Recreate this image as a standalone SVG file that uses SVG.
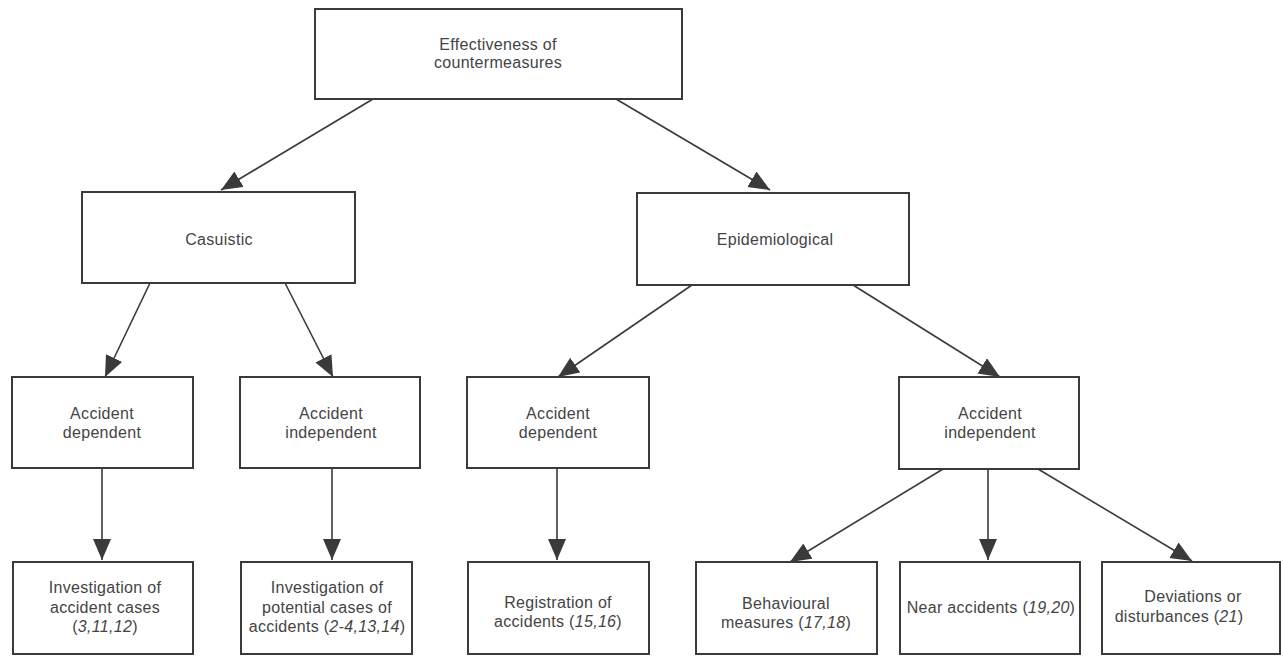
<svg xmlns="http://www.w3.org/2000/svg" width="1283" height="659" viewBox="0 0 1283 659">
<style>
.box{fill:#fff;stroke:#3a3a3a;stroke-width:2}
.t{font-family:"Liberation Sans",Arial,sans-serif;font-size:16px;fill:#444;text-anchor:middle;letter-spacing:0.3px}
.i{font-style:italic}
.c{stroke:#3a3a3a;stroke-width:1.6;fill:none;marker-end:url(#ah)}
</style>
<defs>
<marker id="ah" markerUnits="userSpaceOnUse" markerWidth="24" markerHeight="20" refX="21" refY="9" orient="auto">
<path d="M0,0 L21,9 L0,18 z" fill="#3a3a3a"/>
</marker>
</defs>
<rect width="1283" height="659" fill="#fff"/>
<g id="connectors">
<line class="c" x1="373" y1="99" x2="221" y2="190"/>
<line class="c" x1="616" y1="99" x2="770" y2="190"/>
<line class="c" x1="150" y1="283" x2="105" y2="377"/>
<line class="c" x1="285" y1="283" x2="333" y2="377"/>
<line class="c" x1="692" y1="285" x2="558" y2="377"/>
<line class="c" x1="853" y1="285" x2="1000" y2="377"/>
<line class="c" x1="102" y1="468" x2="102" y2="560"/>
<line class="c" x1="332" y1="468" x2="332" y2="560"/>
<line class="c" x1="557" y1="468" x2="557" y2="560"/>
<line class="c" x1="943" y1="469" x2="790" y2="562"/>
<line class="c" x1="988" y1="469" x2="988" y2="560"/>
<line class="c" x1="1038" y1="469" x2="1192" y2="561"/>
</g>
<g id="n-root"><rect class="box" x="315" y="9" width="367" height="90"/>
<text class="t" x="498" y="50">Effectiveness of</text><text class="t" x="498" y="68">countermeasures</text></g>
<g id="n-casuistic"><rect class="box" x="82" y="192" width="273" height="91"/>
<text class="t" x="219" y="245">Casuistic</text></g>
<g id="n-epidemiological"><rect class="box" x="637" y="193" width="272" height="92"/>
<text class="t" x="775" y="245">Epidemiological</text></g>
<g id="n-cas-dep"><rect class="box" x="12" y="377" width="181" height="91"/>
<text class="t" x="102" y="419">Accident</text><text class="t" x="102" y="438">dependent</text></g>
<g id="n-cas-indep"><rect class="box" x="240" y="377" width="180" height="91"/>
<text class="t" x="331" y="419">Accident</text><text class="t" x="331" y="438">independent</text></g>
<g id="n-epi-dep"><rect class="box" x="467" y="377" width="182" height="91"/>
<text class="t" x="558" y="419">Accident</text><text class="t" x="558" y="438">dependent</text></g>
<g id="n-epi-indep"><rect class="box" x="899" y="377" width="180" height="92"/>
<text class="t" x="990" y="419">Accident</text><text class="t" x="990" y="438">independent</text></g>
<g id="n-inv-acc"><rect class="box" x="13" y="562" width="180" height="92"/>
<text class="t" x="105" y="593">Investigation of</text><text class="t" x="105" y="613">accident cases</text>
<text class="t" x="105" y="632">(<tspan class="i">3,11,12</tspan>)</text></g>
<g id="n-inv-pot"><rect class="box" x="241" y="562" width="171" height="92"/>
<text class="t" x="327" y="593">Investigation of</text><text class="t" x="327" y="613">potential cases of</text>
<text class="t" x="327" y="632">accidents (<tspan class="i">2-4,13,14</tspan>)</text></g>
<g id="n-reg"><rect class="box" x="468" y="562" width="181" height="92"/>
<text class="t" x="558" y="608">Registration of</text><text class="t" x="558" y="627">accidents (<tspan class="i">15,16</tspan>)</text></g>
<g id="n-beh"><rect class="box" x="696" y="562" width="181" height="92"/>
<text class="t" x="786" y="609">Behavioural</text><text class="t" x="786" y="628">measures (<tspan class="i">17,18</tspan>)</text></g>
<g id="n-near"><rect class="box" x="900" y="562" width="180" height="92"/>
<text class="t" x="991" y="613">Near accidents (<tspan class="i">19,20</tspan>)</text></g>
<g id="n-dev"><rect class="box" x="1102" y="562" width="178" height="92"/>
<text class="t" x="1193" y="602">Deviations or</text><text class="t" x="1179" y="622">disturbances (<tspan class="i">21</tspan>)</text></g>
</svg>
